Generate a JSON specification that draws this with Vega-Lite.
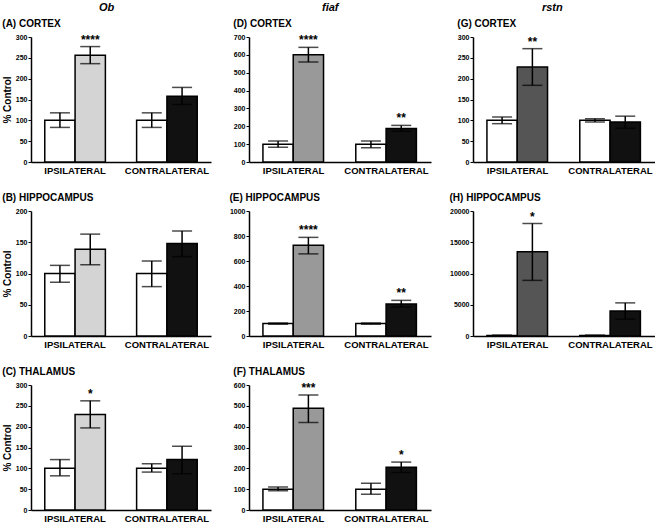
{
  "$schema": "https://vega.github.io/schema/vega-lite/v6.json",
  "padding": {"left": 2, "top": 2, "right": 0, "bottom": 0},
  "background": "white",
  "config": {
    "view": {"stroke": null},
    "font": "Liberation Sans",
    "axis": {"domainColor": "black", "domainWidth": 1.5, "tickColor": "black", "labelColor": "black", "labelFont": "Liberation Sans", "labelFontWeight": "bold", "grid": false, "titleColor": "black"},
    "axisX": {"ticks": false, "labelFontSize": 9.5, "labelPadding": 3, "labelAngle": 0},
    "axisY": {"labelFontSize": 7, "tickSize": 3, "tickWidth": 1, "labelPadding": 1, "titleFontSize": 10, "titleFontWeight": "bold", "titlePadding": 3, "labelOverlap": false, "format": "d"},
    "title": {"color": "black"},
    "tick": {"color": "black"}
  },
  "data": {"values": [
    {"panel": "A", "side": "IPSILATERAL", "group": "control", "cond": "ctrl", "value": 100, "lo": 83, "hi": 118, "sig": ""},
    {"panel": "A", "side": "IPSILATERAL", "group": "treated", "cond": "ob", "value": 256, "lo": 236, "hi": 277, "sig": "****"},
    {"panel": "A", "side": "CONTRALATERAL", "group": "control", "cond": "ctrl", "value": 100, "lo": 83, "hi": 118, "sig": ""},
    {"panel": "A", "side": "CONTRALATERAL", "group": "treated", "cond": "contra", "value": 158, "lo": 138, "hi": 179, "sig": ""},
    {"panel": "B", "side": "IPSILATERAL", "group": "control", "cond": "ctrl", "value": 100, "lo": 86, "hi": 113, "sig": ""},
    {"panel": "B", "side": "IPSILATERAL", "group": "treated", "cond": "ob", "value": 139, "lo": 114, "hi": 163, "sig": ""},
    {"panel": "B", "side": "CONTRALATERAL", "group": "control", "cond": "ctrl", "value": 100, "lo": 79, "hi": 120, "sig": ""},
    {"panel": "B", "side": "CONTRALATERAL", "group": "treated", "cond": "contra", "value": 148, "lo": 127, "hi": 168, "sig": ""},
    {"panel": "C", "side": "IPSILATERAL", "group": "control", "cond": "ctrl", "value": 100, "lo": 82, "hi": 121, "sig": ""},
    {"panel": "C", "side": "IPSILATERAL", "group": "treated", "cond": "ob", "value": 229, "lo": 197, "hi": 262, "sig": "*"},
    {"panel": "C", "side": "CONTRALATERAL", "group": "control", "cond": "ctrl", "value": 100, "lo": 91, "hi": 111, "sig": ""},
    {"panel": "C", "side": "CONTRALATERAL", "group": "treated", "cond": "contra", "value": 121, "lo": 87, "hi": 153, "sig": ""},
    {"panel": "D", "side": "IPSILATERAL", "group": "control", "cond": "ctrl", "value": 100, "lo": 82, "hi": 118, "sig": ""},
    {"panel": "D", "side": "IPSILATERAL", "group": "treated", "cond": "fiaf", "value": 600, "lo": 560, "hi": 642, "sig": "****"},
    {"panel": "D", "side": "CONTRALATERAL", "group": "control", "cond": "ctrl", "value": 100, "lo": 80, "hi": 118, "sig": ""},
    {"panel": "D", "side": "CONTRALATERAL", "group": "treated", "cond": "contra", "value": 188, "lo": 172, "hi": 205, "sig": "**"},
    {"panel": "E", "side": "IPSILATERAL", "group": "control", "cond": "ctrl", "value": 100, "lo": 95, "hi": 105, "sig": ""},
    {"panel": "E", "side": "IPSILATERAL", "group": "treated", "cond": "fiaf", "value": 727, "lo": 657, "hi": 789, "sig": "****"},
    {"panel": "E", "side": "CONTRALATERAL", "group": "control", "cond": "ctrl", "value": 100, "lo": 95, "hi": 105, "sig": ""},
    {"panel": "E", "side": "CONTRALATERAL", "group": "treated", "cond": "contra", "value": 256, "lo": 232, "hi": 285, "sig": "**"},
    {"panel": "F", "side": "IPSILATERAL", "group": "control", "cond": "ctrl", "value": 100, "lo": 92, "hi": 110, "sig": ""},
    {"panel": "F", "side": "IPSILATERAL", "group": "treated", "cond": "fiaf", "value": 488, "lo": 420, "hi": 552, "sig": "***"},
    {"panel": "F", "side": "CONTRALATERAL", "group": "control", "cond": "ctrl", "value": 100, "lo": 76, "hi": 128, "sig": ""},
    {"panel": "F", "side": "CONTRALATERAL", "group": "treated", "cond": "contra", "value": 205, "lo": 180, "hi": 230, "sig": "*"},
    {"panel": "G", "side": "IPSILATERAL", "group": "control", "cond": "ctrl", "value": 100, "lo": 92, "hi": 108, "sig": ""},
    {"panel": "G", "side": "IPSILATERAL", "group": "treated", "cond": "rstn", "value": 228, "lo": 184, "hi": 272, "sig": "**"},
    {"panel": "G", "side": "CONTRALATERAL", "group": "control", "cond": "ctrl", "value": 100, "lo": 96, "hi": 104, "sig": ""},
    {"panel": "G", "side": "CONTRALATERAL", "group": "treated", "cond": "contra", "value": 96, "lo": 81, "hi": 110, "sig": ""},
    {"panel": "H", "side": "IPSILATERAL", "group": "control", "cond": "ctrl", "value": 100, "lo": 90, "hi": 110, "sig": ""},
    {"panel": "H", "side": "IPSILATERAL", "group": "treated", "cond": "rstn", "value": 13500, "lo": 8900, "hi": 18000, "sig": "*"},
    {"panel": "H", "side": "CONTRALATERAL", "group": "control", "cond": "ctrl", "value": 100, "lo": 90, "hi": 110, "sig": ""},
    {"panel": "H", "side": "CONTRALATERAL", "group": "treated", "cond": "contra", "value": 4000, "lo": 2700, "hi": 5300, "sig": ""}
  ]},
  "spacing": 18,
  "hconcat": [
    {
      "title": {"text": "Ob", "fontSize": 11, "fontWeight": "bold", "fontStyle": "italic", "anchor": "middle", "offset": 6},
      "spacing": 18,
      "vconcat": [
        {
          "title": {"text": "(A) CORTEX", "fontSize": 10, "fontWeight": "bold", "anchor": "start", "offset": 4},
          "width": 180, "height": 125,
          "transform": [{"filter": "datum.panel == 'A'"}],
          "encoding": {
            "x": {"field": "side", "type": "nominal", "sort": ["IPSILATERAL", "CONTRALATERAL"], "title": null, "scale": {"paddingInner": 0.34, "paddingOuter": 0.15}},
            "xOffset": {"field": "group", "type": "nominal", "sort": ["control", "treated"]}
          },
          "layer": [
            {"mark": {"type": "bar", "stroke": "black", "strokeWidth": 1.5}, "encoding": {"y": {"field": "value", "type": "quantitative", "title": "% Control", "scale": {"domain": [0, 300]}, "axis": {"values": [0, 50, 100, 150, 200, 250, 300]}}, "fill": {"field": "cond", "type": "nominal", "scale": {"domain": ["ctrl", "ob", "fiaf", "rstn", "contra"], "range": ["#ffffff", "#d4d4d4", "#999999", "#555555", "#111111"]}, "legend": null}}},
            {"mark": {"type": "rule", "strokeWidth": 1.5, "color": "black"}, "encoding": {"y": {"field": "lo", "type": "quantitative", "title": "% Control", "axis": {"values": [0, 50, 100, 150, 200, 250, 300]}}, "y2": {"field": "hi"}}},
            {"mark": {"type": "tick", "thickness": 1.5, "size": 20}, "encoding": {"y": {"field": "lo", "type": "quantitative", "title": "% Control", "axis": {"values": [0, 50, 100, 150, 200, 250, 300]}}}},
            {"mark": {"type": "tick", "thickness": 1.5, "size": 20}, "encoding": {"y": {"field": "hi", "type": "quantitative", "title": "% Control", "axis": {"values": [0, 50, 100, 150, 200, 250, 300]}}}},
            {"mark": {"type": "text", "baseline": "bottom", "dy": 0, "fontSize": 12, "fontWeight": "bold", "color": "black"}, "encoding": {"y": {"field": "hi", "type": "quantitative", "title": "% Control", "axis": {"values": [0, 50, 100, 150, 200, 250, 300]}}, "text": {"field": "sig"}}}
          ]
        },
        {
          "title": {"text": "(B) HIPPOCAMPUS", "fontSize": 10, "fontWeight": "bold", "anchor": "start", "offset": 4},
          "width": 180, "height": 125,
          "transform": [{"filter": "datum.panel == 'B'"}],
          "encoding": {
            "x": {"field": "side", "type": "nominal", "sort": ["IPSILATERAL", "CONTRALATERAL"], "title": null, "scale": {"paddingInner": 0.34, "paddingOuter": 0.15}},
            "xOffset": {"field": "group", "type": "nominal", "sort": ["control", "treated"]}
          },
          "layer": [
            {"mark": {"type": "bar", "stroke": "black", "strokeWidth": 1.5}, "encoding": {"y": {"field": "value", "type": "quantitative", "title": "% Control", "scale": {"domain": [0, 200]}, "axis": {"values": [0, 50, 100, 150, 200]}}, "fill": {"field": "cond", "type": "nominal", "scale": {"domain": ["ctrl", "ob", "fiaf", "rstn", "contra"], "range": ["#ffffff", "#d4d4d4", "#999999", "#555555", "#111111"]}, "legend": null}}},
            {"mark": {"type": "rule", "strokeWidth": 1.5, "color": "black"}, "encoding": {"y": {"field": "lo", "type": "quantitative", "title": "% Control", "axis": {"values": [0, 50, 100, 150, 200]}}, "y2": {"field": "hi"}}},
            {"mark": {"type": "tick", "thickness": 1.5, "size": 20}, "encoding": {"y": {"field": "lo", "type": "quantitative", "title": "% Control", "axis": {"values": [0, 50, 100, 150, 200]}}}},
            {"mark": {"type": "tick", "thickness": 1.5, "size": 20}, "encoding": {"y": {"field": "hi", "type": "quantitative", "title": "% Control", "axis": {"values": [0, 50, 100, 150, 200]}}}},
            {"mark": {"type": "text", "baseline": "bottom", "dy": 0, "fontSize": 12, "fontWeight": "bold", "color": "black"}, "encoding": {"y": {"field": "hi", "type": "quantitative", "title": "% Control", "axis": {"values": [0, 50, 100, 150, 200]}}, "text": {"field": "sig"}}}
          ]
        },
        {
          "title": {"text": "(C) THALAMUS", "fontSize": 10, "fontWeight": "bold", "anchor": "start", "offset": 4},
          "width": 180, "height": 125,
          "transform": [{"filter": "datum.panel == 'C'"}],
          "encoding": {
            "x": {"field": "side", "type": "nominal", "sort": ["IPSILATERAL", "CONTRALATERAL"], "title": null, "scale": {"paddingInner": 0.34, "paddingOuter": 0.15}},
            "xOffset": {"field": "group", "type": "nominal", "sort": ["control", "treated"]}
          },
          "layer": [
            {"mark": {"type": "bar", "stroke": "black", "strokeWidth": 1.5}, "encoding": {"y": {"field": "value", "type": "quantitative", "title": "% Control", "scale": {"domain": [0, 300]}, "axis": {"values": [0, 50, 100, 150, 200, 250, 300]}}, "fill": {"field": "cond", "type": "nominal", "scale": {"domain": ["ctrl", "ob", "fiaf", "rstn", "contra"], "range": ["#ffffff", "#d4d4d4", "#999999", "#555555", "#111111"]}, "legend": null}}},
            {"mark": {"type": "rule", "strokeWidth": 1.5, "color": "black"}, "encoding": {"y": {"field": "lo", "type": "quantitative", "title": "% Control", "axis": {"values": [0, 50, 100, 150, 200, 250, 300]}}, "y2": {"field": "hi"}}},
            {"mark": {"type": "tick", "thickness": 1.5, "size": 20}, "encoding": {"y": {"field": "lo", "type": "quantitative", "title": "% Control", "axis": {"values": [0, 50, 100, 150, 200, 250, 300]}}}},
            {"mark": {"type": "tick", "thickness": 1.5, "size": 20}, "encoding": {"y": {"field": "hi", "type": "quantitative", "title": "% Control", "axis": {"values": [0, 50, 100, 150, 200, 250, 300]}}}},
            {"mark": {"type": "text", "baseline": "bottom", "dy": 0, "fontSize": 12, "fontWeight": "bold", "color": "black"}, "encoding": {"y": {"field": "hi", "type": "quantitative", "title": "% Control", "axis": {"values": [0, 50, 100, 150, 200, 250, 300]}}, "text": {"field": "sig"}}}
          ]
        }
      ]
    },
    {
      "title": {"text": "fiaf", "fontSize": 11, "fontWeight": "bold", "fontStyle": "italic", "anchor": "middle", "offset": 6},
      "spacing": 18,
      "vconcat": [
        {
          "title": {"text": "(D) CORTEX", "fontSize": 10, "fontWeight": "bold", "anchor": "start", "offset": 4},
          "width": 182, "height": 125,
          "transform": [{"filter": "datum.panel == 'D'"}],
          "encoding": {
            "x": {"field": "side", "type": "nominal", "sort": ["IPSILATERAL", "CONTRALATERAL"], "title": null, "scale": {"paddingInner": 0.34, "paddingOuter": 0.15}},
            "xOffset": {"field": "group", "type": "nominal", "sort": ["control", "treated"]}
          },
          "layer": [
            {"mark": {"type": "bar", "stroke": "black", "strokeWidth": 1.5}, "encoding": {"y": {"field": "value", "type": "quantitative", "title": null, "scale": {"domain": [0, 700]}, "axis": {"values": [0, 100, 200, 300, 400, 500, 600, 700]}}, "fill": {"field": "cond", "type": "nominal", "scale": {"domain": ["ctrl", "ob", "fiaf", "rstn", "contra"], "range": ["#ffffff", "#d4d4d4", "#999999", "#555555", "#111111"]}, "legend": null}}},
            {"mark": {"type": "rule", "strokeWidth": 1.5, "color": "black"}, "encoding": {"y": {"field": "lo", "type": "quantitative", "title": null, "axis": {"values": [0, 100, 200, 300, 400, 500, 600, 700]}}, "y2": {"field": "hi"}}},
            {"mark": {"type": "tick", "thickness": 1.5, "size": 20}, "encoding": {"y": {"field": "lo", "type": "quantitative", "title": null, "axis": {"values": [0, 100, 200, 300, 400, 500, 600, 700]}}}},
            {"mark": {"type": "tick", "thickness": 1.5, "size": 20}, "encoding": {"y": {"field": "hi", "type": "quantitative", "title": null, "axis": {"values": [0, 100, 200, 300, 400, 500, 600, 700]}}}},
            {"mark": {"type": "text", "baseline": "bottom", "dy": 0, "fontSize": 12, "fontWeight": "bold", "color": "black"}, "encoding": {"y": {"field": "hi", "type": "quantitative", "title": null, "axis": {"values": [0, 100, 200, 300, 400, 500, 600, 700]}}, "text": {"field": "sig"}}}
          ]
        },
        {
          "title": {"text": "(E) HIPPOCAMPUS", "fontSize": 10, "fontWeight": "bold", "anchor": "start", "offset": 4},
          "width": 182, "height": 125,
          "transform": [{"filter": "datum.panel == 'E'"}],
          "encoding": {
            "x": {"field": "side", "type": "nominal", "sort": ["IPSILATERAL", "CONTRALATERAL"], "title": null, "scale": {"paddingInner": 0.34, "paddingOuter": 0.15}},
            "xOffset": {"field": "group", "type": "nominal", "sort": ["control", "treated"]}
          },
          "layer": [
            {"mark": {"type": "bar", "stroke": "black", "strokeWidth": 1.5}, "encoding": {"y": {"field": "value", "type": "quantitative", "title": null, "scale": {"domain": [0, 1000]}, "axis": {"values": [0, 200, 400, 600, 800, 1000], "format": "d"}}, "fill": {"field": "cond", "type": "nominal", "scale": {"domain": ["ctrl", "ob", "fiaf", "rstn", "contra"], "range": ["#ffffff", "#d4d4d4", "#999999", "#555555", "#111111"]}, "legend": null}}},
            {"mark": {"type": "rule", "strokeWidth": 1.5, "color": "black"}, "encoding": {"y": {"field": "lo", "type": "quantitative", "title": null, "axis": {"values": [0, 200, 400, 600, 800, 1000], "format": "d"}}, "y2": {"field": "hi"}}},
            {"mark": {"type": "tick", "thickness": 1.5, "size": 20}, "encoding": {"y": {"field": "lo", "type": "quantitative", "title": null, "axis": {"values": [0, 200, 400, 600, 800, 1000], "format": "d"}}}},
            {"mark": {"type": "tick", "thickness": 1.5, "size": 20}, "encoding": {"y": {"field": "hi", "type": "quantitative", "title": null, "axis": {"values": [0, 200, 400, 600, 800, 1000], "format": "d"}}}},
            {"mark": {"type": "text", "baseline": "bottom", "dy": 0, "fontSize": 12, "fontWeight": "bold", "color": "black"}, "encoding": {"y": {"field": "hi", "type": "quantitative", "title": null, "axis": {"values": [0, 200, 400, 600, 800, 1000], "format": "d"}}, "text": {"field": "sig"}}}
          ]
        },
        {
          "title": {"text": "(F) THALAMUS", "fontSize": 10, "fontWeight": "bold", "anchor": "start", "offset": 4},
          "width": 182, "height": 125,
          "transform": [{"filter": "datum.panel == 'F'"}],
          "encoding": {
            "x": {"field": "side", "type": "nominal", "sort": ["IPSILATERAL", "CONTRALATERAL"], "title": null, "scale": {"paddingInner": 0.34, "paddingOuter": 0.15}},
            "xOffset": {"field": "group", "type": "nominal", "sort": ["control", "treated"]}
          },
          "layer": [
            {"mark": {"type": "bar", "stroke": "black", "strokeWidth": 1.5}, "encoding": {"y": {"field": "value", "type": "quantitative", "title": null, "scale": {"domain": [0, 600]}, "axis": {"values": [0, 100, 200, 300, 400, 500, 600]}}, "fill": {"field": "cond", "type": "nominal", "scale": {"domain": ["ctrl", "ob", "fiaf", "rstn", "contra"], "range": ["#ffffff", "#d4d4d4", "#999999", "#555555", "#111111"]}, "legend": null}}},
            {"mark": {"type": "rule", "strokeWidth": 1.5, "color": "black"}, "encoding": {"y": {"field": "lo", "type": "quantitative", "title": null, "axis": {"values": [0, 100, 200, 300, 400, 500, 600]}}, "y2": {"field": "hi"}}},
            {"mark": {"type": "tick", "thickness": 1.5, "size": 20}, "encoding": {"y": {"field": "lo", "type": "quantitative", "title": null, "axis": {"values": [0, 100, 200, 300, 400, 500, 600]}}}},
            {"mark": {"type": "tick", "thickness": 1.5, "size": 20}, "encoding": {"y": {"field": "hi", "type": "quantitative", "title": null, "axis": {"values": [0, 100, 200, 300, 400, 500, 600]}}}},
            {"mark": {"type": "text", "baseline": "bottom", "dy": 0, "fontSize": 12, "fontWeight": "bold", "color": "black"}, "encoding": {"y": {"field": "hi", "type": "quantitative", "title": null, "axis": {"values": [0, 100, 200, 300, 400, 500, 600]}}, "text": {"field": "sig"}}}
          ]
        }
      ]
    },
    {
      "title": {"text": "rstn", "fontSize": 11, "fontWeight": "bold", "fontStyle": "italic", "anchor": "middle", "offset": 6},
      "spacing": 18,
      "vconcat": [
        {
          "title": {"text": "(G) CORTEX", "fontSize": 10, "fontWeight": "bold", "anchor": "start", "offset": 4},
          "width": 182, "height": 125,
          "transform": [{"filter": "datum.panel == 'G'"}],
          "encoding": {
            "x": {"field": "side", "type": "nominal", "sort": ["IPSILATERAL", "CONTRALATERAL"], "title": null, "scale": {"paddingInner": 0.34, "paddingOuter": 0.15}},
            "xOffset": {"field": "group", "type": "nominal", "sort": ["control", "treated"]}
          },
          "layer": [
            {"mark": {"type": "bar", "stroke": "black", "strokeWidth": 1.5}, "encoding": {"y": {"field": "value", "type": "quantitative", "title": null, "scale": {"domain": [0, 300]}, "axis": {"values": [0, 50, 100, 150, 200, 250, 300]}}, "fill": {"field": "cond", "type": "nominal", "scale": {"domain": ["ctrl", "ob", "fiaf", "rstn", "contra"], "range": ["#ffffff", "#d4d4d4", "#999999", "#555555", "#111111"]}, "legend": null}}},
            {"mark": {"type": "rule", "strokeWidth": 1.5, "color": "black"}, "encoding": {"y": {"field": "lo", "type": "quantitative", "title": null, "axis": {"values": [0, 50, 100, 150, 200, 250, 300]}}, "y2": {"field": "hi"}}},
            {"mark": {"type": "tick", "thickness": 1.5, "size": 20}, "encoding": {"y": {"field": "lo", "type": "quantitative", "title": null, "axis": {"values": [0, 50, 100, 150, 200, 250, 300]}}}},
            {"mark": {"type": "tick", "thickness": 1.5, "size": 20}, "encoding": {"y": {"field": "hi", "type": "quantitative", "title": null, "axis": {"values": [0, 50, 100, 150, 200, 250, 300]}}}},
            {"mark": {"type": "text", "baseline": "bottom", "dy": 0, "fontSize": 12, "fontWeight": "bold", "color": "black"}, "encoding": {"y": {"field": "hi", "type": "quantitative", "title": null, "axis": {"values": [0, 50, 100, 150, 200, 250, 300]}}, "text": {"field": "sig"}}}
          ]
        },
        {
          "title": {"text": "(H)   HIPPOCAMPUS", "fontSize": 10, "fontWeight": "bold", "anchor": "start", "offset": 4},
          "width": 182, "height": 125,
          "transform": [{"filter": "datum.panel == 'H'"}],
          "encoding": {
            "x": {"field": "side", "type": "nominal", "sort": ["IPSILATERAL", "CONTRALATERAL"], "title": null, "scale": {"paddingInner": 0.34, "paddingOuter": 0.15}},
            "xOffset": {"field": "group", "type": "nominal", "sort": ["control", "treated"]}
          },
          "layer": [
            {"mark": {"type": "bar", "stroke": "black", "strokeWidth": 1.5}, "encoding": {"y": {"field": "value", "type": "quantitative", "title": null, "scale": {"domain": [0, 20000]}, "axis": {"values": [0, 5000, 10000, 15000, 20000], "format": "d"}}, "fill": {"field": "cond", "type": "nominal", "scale": {"domain": ["ctrl", "ob", "fiaf", "rstn", "contra"], "range": ["#ffffff", "#d4d4d4", "#999999", "#555555", "#111111"]}, "legend": null}}},
            {"mark": {"type": "rule", "strokeWidth": 1.5, "color": "black"}, "encoding": {"y": {"field": "lo", "type": "quantitative", "title": null, "axis": {"values": [0, 5000, 10000, 15000, 20000], "format": "d"}}, "y2": {"field": "hi"}}},
            {"mark": {"type": "tick", "thickness": 1.5, "size": 20}, "encoding": {"y": {"field": "lo", "type": "quantitative", "title": null, "axis": {"values": [0, 5000, 10000, 15000, 20000], "format": "d"}}}},
            {"mark": {"type": "tick", "thickness": 1.5, "size": 20}, "encoding": {"y": {"field": "hi", "type": "quantitative", "title": null, "axis": {"values": [0, 5000, 10000, 15000, 20000], "format": "d"}}}},
            {"mark": {"type": "text", "baseline": "bottom", "dy": 0, "fontSize": 12, "fontWeight": "bold", "color": "black"}, "encoding": {"y": {"field": "hi", "type": "quantitative", "title": null, "axis": {"values": [0, 5000, 10000, 15000, 20000], "format": "d"}}, "text": {"field": "sig"}}}
          ]
        }
      ]
    }
  ]
}
